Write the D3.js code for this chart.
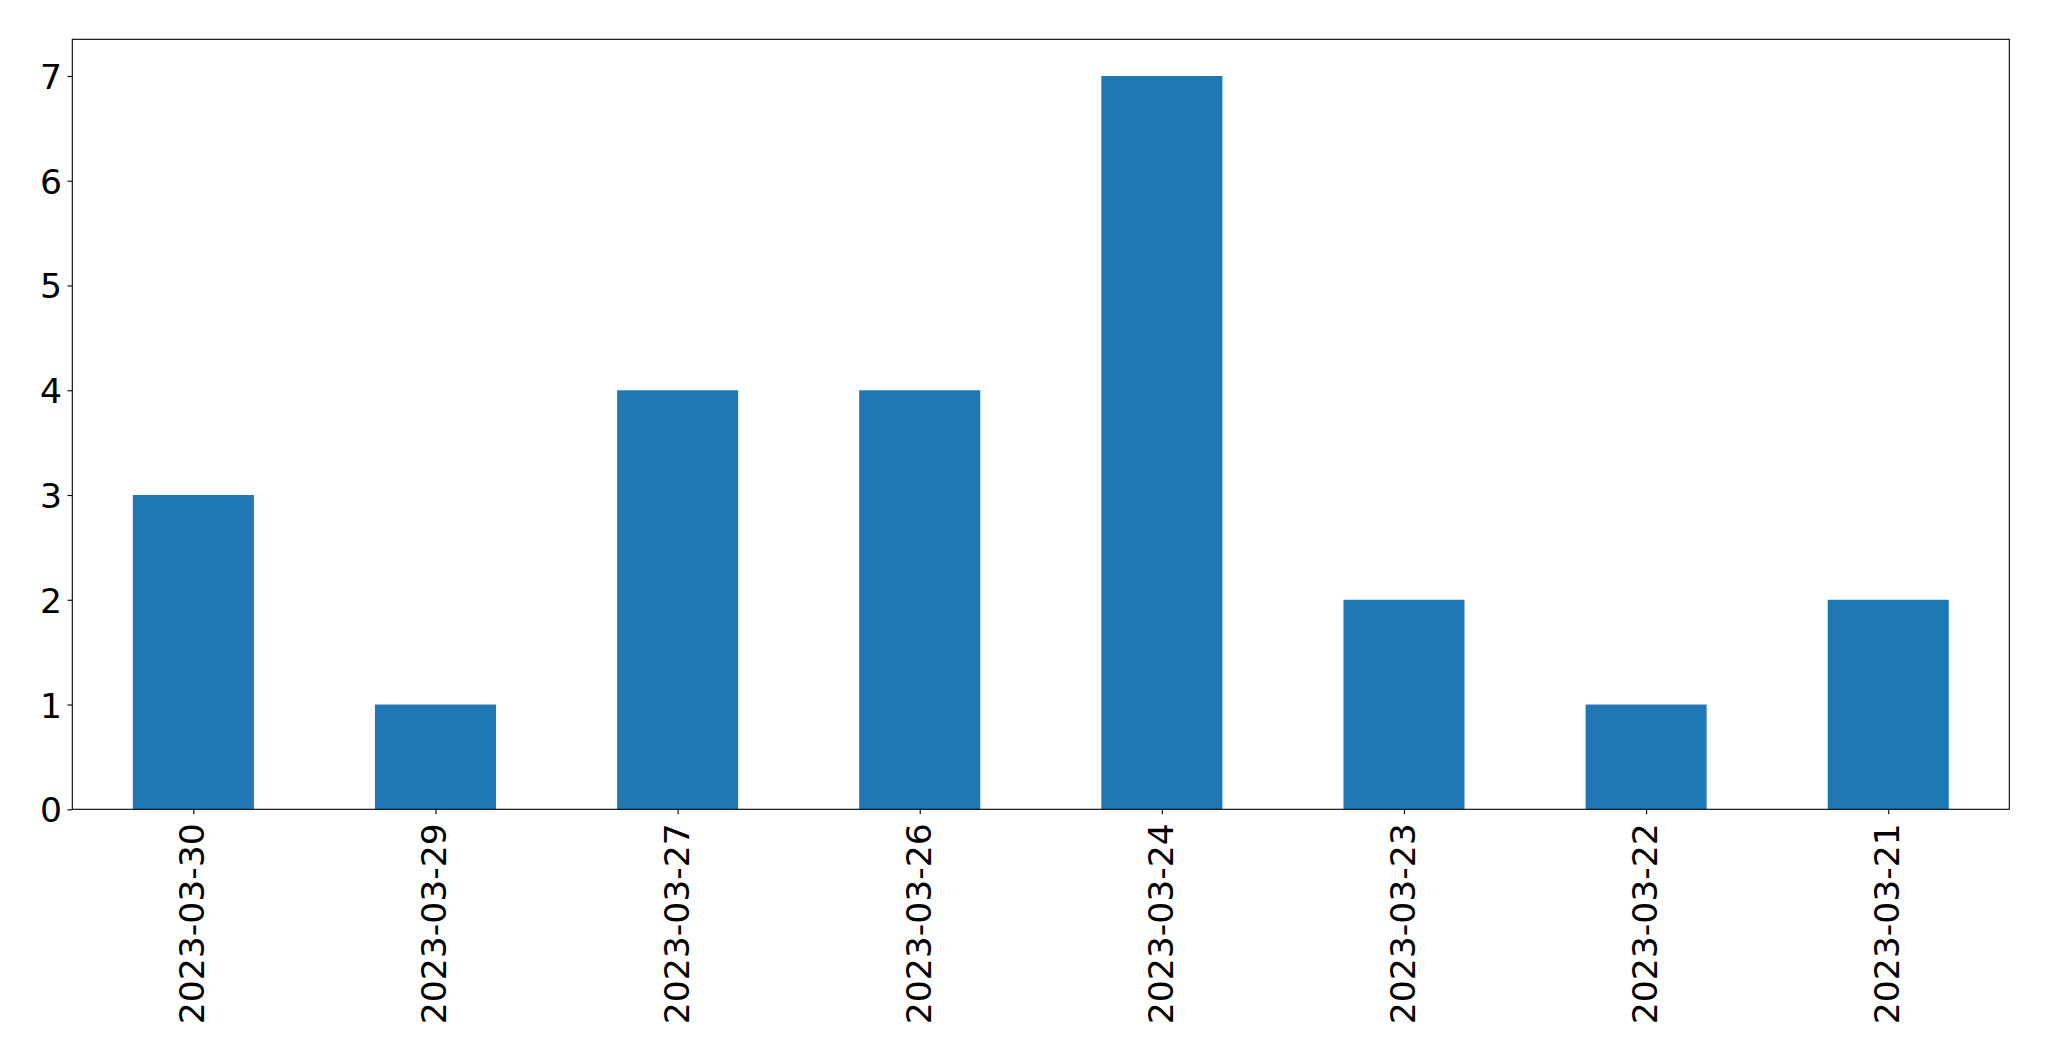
<!DOCTYPE html>
<html><head><meta charset="utf-8">
<script src="https://cdn.jsdelivr.net/npm/d3@7"></script>
<style>body{margin:0;background:#fff}svg{display:block}text{font-family:"DejaVu Sans",sans-serif}</style>
</head><body>
<svg id="c" width="2049" height="1061"></svg>
<script>
const categories = ["2023-03-30","2023-03-29","2023-03-27","2023-03-26","2023-03-24","2023-03-23","2023-03-22","2023-03-21"];
const values = [3,1,4,4,7,2,1,2];
const yTicks = [0,1,2,3,4,5,6,7];

const L=72.3, R=2009.3, T=39.3, B=809.3;
const svg=d3.select("#c");
const x=d3.scaleLinear().domain([-0.5,categories.length-0.5]).range([L,R]);
const y=d3.scaleLinear().domain([0,7.35]).range([B,T]);
const bw=0.5;

svg.append("g").selectAll("rect").data(values).join("rect")
  .attr("x",(d,i)=>x(i-bw/2)).attr("width",(d,i)=>x(i+bw/2)-x(i-bw/2))
  .attr("y",d=>y(d)).attr("height",d=>y(0)-y(d)).attr("fill","#1f77b4");

const fs=34.6;
const ya=svg.append("g").attr("transform",`translate(${L},0)`)
  .call(d3.axisLeft(y).tickValues(yTicks).tickFormat(d3.format("d")).tickSize(4.86).tickPadding(5.5));
ya.select(".domain").remove();
ya.selectAll("text").attr("font-size",fs).attr("font-family","DejaVu Sans").attr("fill","#000").attr("dy","0.36em");
ya.selectAll("line").attr("stroke","#000").attr("stroke-width",1.1);

const xa=svg.append("g").attr("transform",`translate(0,${B})`)
  .call(d3.axisBottom(x).tickValues(d3.range(categories.length)).tickFormat(i=>categories[i]).tickSize(4.86).tickPadding(0));
xa.select(".domain").remove();
xa.selectAll("line").attr("stroke","#000").attr("stroke-width",1.1);
xa.selectAll("text").attr("font-size",fs).attr("font-family","DejaVu Sans").attr("fill","#000")
  .attr("text-anchor","end").attr("y",0).attr("dy","0.3em")
  .attr("transform","translate(0,14) rotate(-90)");

svg.append("rect").attr("x",L).attr("y",T).attr("width",R-L).attr("height",B-T)
  .attr("fill","none").attr("stroke","#000").attr("stroke-width",1.1);
</script>
</body></html>
